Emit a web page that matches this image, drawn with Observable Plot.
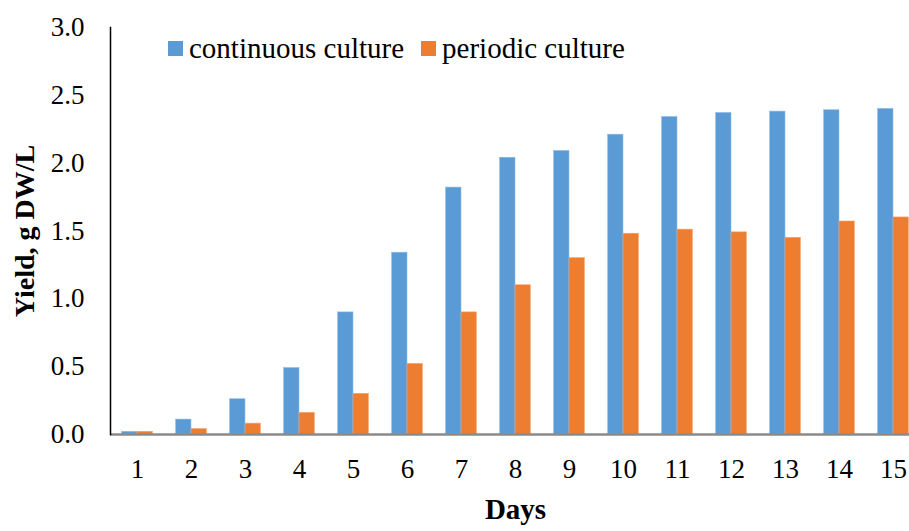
<!DOCTYPE html>
<html>
<head>
<meta charset="utf-8">
<script src="https://cdn.jsdelivr.net/npm/d3@7"></script>
<script src="https://cdn.jsdelivr.net/npm/@observablehq/plot@0.6"></script>
<style>
  html, body { margin: 0; padding: 0; background: #fff; }
  #wrap { position: relative; width: 909px; height: 531px; overflow: hidden; }
  #wrap svg { max-width: none !important; width: 920px; height: 531px; }
  #legend { position: absolute; left: 168px; top: 32px; display: flex; align-items: center;
    font-family: 'Liberation Serif'; font-size: 29px; color: #000; white-space: nowrap; }
  #legend .sw { width: 15px; height: 15px; display: inline-block; margin-right: 6px; }
  #legend .item { display: flex; align-items: center; margin-right: 17px; }
</style>
</head>
<body>
<div id="wrap"></div>
<script>
const days = [1, 2, 3, 4, 5, 6, 7, 8, 9, 10, 11, 12, 13, 14, 15];
const continuous = [0.02, 0.11, 0.26, 0.49, 0.90, 1.34, 1.82, 2.04, 2.09, 2.21, 2.34, 2.37, 2.38, 2.39, 2.40];
const periodic = [0.02, 0.04, 0.08, 0.16, 0.30, 0.52, 0.90, 1.10, 1.30, 1.48, 1.51, 1.49, 1.45, 1.57, 1.60];
const seriesNames = ["continuous culture", "periodic culture"];
const seriesColors = ["#5B9BD5", "#ED7D31"];
const yTicks = [0, 0.5, 1.0, 1.5, 2.0, 2.5, 3.0];

const contRows = days.map((d, i) => ({day: d, value: continuous[i], series: seriesNames[0]}));
const perRows = days.map((d, i) => ({day: d, value: periodic[i], series: seriesNames[1]}));

const FONT = "Liberation Serif";

const chart = Plot.plot({
  width: 920,
  height: 531,
  marginLeft: 110,
  marginRight: 0,
  marginTop: 27,
  marginBottom: 97,
  style: {fontFamily: "'Liberation Serif'", fontSize: "26px", color: "#000", background: "#fff"},
  x: {domain: days, paddingInner: 0.7157, paddingOuter: 0.35785, align: 0.5, round: false},
  y: {domain: [0, 3]},
  color: {domain: seriesNames, range: seriesColors},
  marks: [
    Plot.barY(contRows, {x: "day", y: "value", fill: "series", dx: -7.68, stroke: "#8fbbe6", strokeWidth: 0.6}),
    Plot.barY(perRows, {x: "day", y: "value", fill: "series", dx: 7.68, stroke: "#f3a46e", strokeWidth: 0.6}),
    Plot.ruleY([0], {stroke: "#8a8a8a", strokeWidth: 2.5}),
    Plot.frame({anchor: "left", stroke: "#000", strokeWidth: 1.5}),
    Plot.axisX({tickSize: 0, tickPadding: 24, label: null, fontSize: 27, fontFamily: FONT}),
    Plot.axisY({ticks: yTicks, tickSize: 0, tickPadding: 26, tickFormat: d3.format(".1f"), label: null, fontSize: 27, fontFamily: FONT}),
    Plot.text(["Yield, g DW/L"], {frameAnchor: "left", rotate: -90, dx: -85, fontSize: 28, fontWeight: "bold", fontFamily: FONT, lineAnchor: "middle", textAnchor: "middle"}),
    Plot.text(["Days"], {frameAnchor: "bottom", dy: 75, fontSize: 29, fontWeight: "bold", fontFamily: FONT, lineAnchor: "middle", textAnchor: "middle"})
  ]
});

const wrap = document.getElementById("wrap");
wrap.appendChild(chart);

const legend = document.createElement("div");
legend.id = "legend";
seriesNames.forEach((name, i) => {
  const item = document.createElement("span");
  item.className = "item";
  const sw = document.createElement("span");
  sw.className = "sw";
  sw.style.background = seriesColors[i];
  item.appendChild(sw);
  item.appendChild(document.createTextNode(name));
  legend.appendChild(item);
});
wrap.appendChild(legend);
</script>
</body>
</html>
